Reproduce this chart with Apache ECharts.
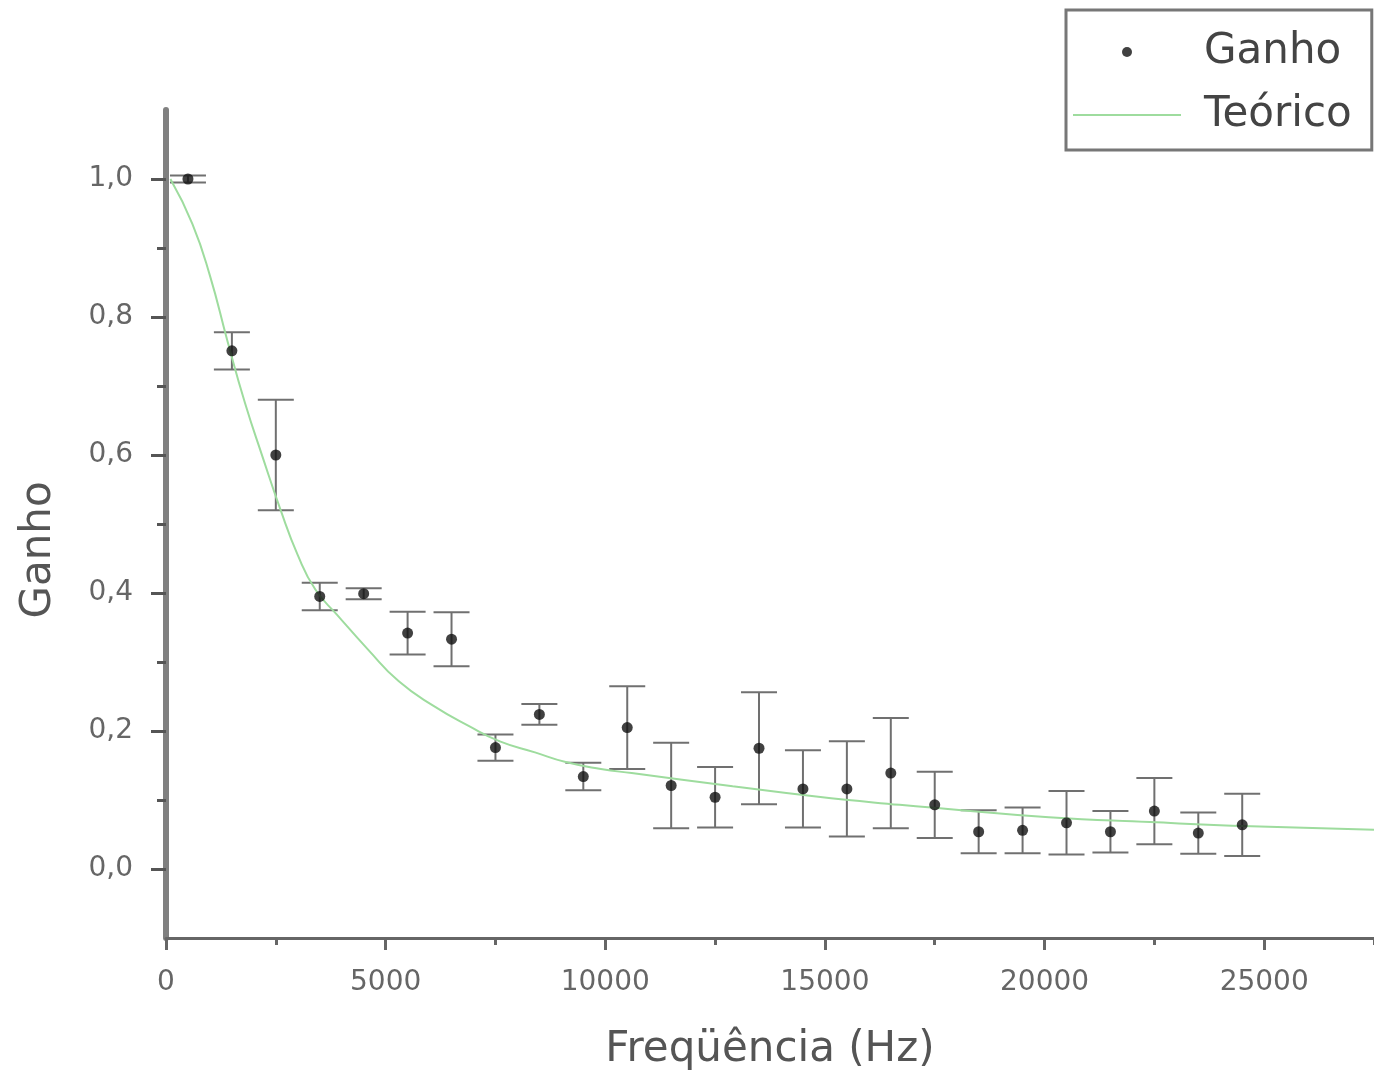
<!DOCTYPE html>
<html>
<head>
<meta charset="utf-8">
<script src="https://cdn.jsdelivr.net/npm/echarts@6/dist/echarts.min.js"></script>
<style>
html,body{margin:0;padding:0;background:#fff;}
#chart{width:1374px;height:1077px;}
</style>
</head>
<body>
<div id="chart"></div>
<script>
// Measured gain data (frequency in Hz)
const freq = [500,1500,2500,3500,4500,5500,6500,7500,8500,9500,10500,11500,12500,13500,14500,15500,16500,17500,18500,19500,20500,21500,22500,23500,24500];
const ganho = [1.0,0.751,0.600,0.395,0.399,0.342,0.333,0.176,0.224,0.134,0.205,0.121,0.104,0.175,0.116,0.116,0.139,0.093,0.054,0.056,0.067,0.054,0.084,0.052,0.064];
const ganhoErr = [0.005,0.027,0.080,0.020,0.008,0.031,0.039,0.019,0.015,0.020,0.060,0.062,0.044,0.081,0.056,0.069,0.080,0.048,0.031,0.033,0.046,0.030,0.048,0.030,0.045];

// Theoretical curve
const teoFreq = [100,600,1000,1400,1800,2200,2600,3000,3400,3900,4600,5300,6100,6900,7600,8400,9100,9900,10600,12900,14800,16700,17800,20100,22400,24700,27500];
const teoGanho = [1.0,0.935,0.86,0.765,0.675,0.597,0.522,0.455,0.405,0.368,0.318,0.272,0.236,0.207,0.185,0.169,0.155,0.145,0.139,0.120,0.105,0.093,0.087,0.075,0.068,0.062,0.057];

// Tick values
const xMajor = [0,5000,10000,15000,20000,25000];
const xMinor = [2500,7500,12500,17500,22500,27500];
const yMajor = [0,0.2,0.4,0.6,0.8,1.0];
const yMinor = [0.1,0.3,0.5,0.7,0.9];

const FONT = 'DejaVu Sans';
const pts = freq.map((f,i)=>[f, ganho[i]]);
const errData = freq.map((f,i)=>[f, ganho[i], ganhoErr[i]]);
const teo = teoFreq.map((f,i)=>[f, teoGanho[i]]);

const chart = echarts.init(document.getElementById('chart'));
const errStyle = {stroke:'#707070', lineWidth:2};
chart.setOption({
  animation:false,
  backgroundColor:'#fff',
  grid:{left:166, right:0, top:110, bottom:139, containLabel:false},
  legend:{
    orient:'vertical', left:1066, top:10,
    padding:[21,20,14,6], itemGap:21,
    itemWidth:108, itemHeight:10,
    borderColor:'#777', borderWidth:3, backgroundColor:'#fff',
    textStyle:{fontFamily:FONT, fontSize:42, color:'#444', padding:[0,0,0,18]},
    data:[
      {name:'Ganho'},
      {name:'Teórico', itemStyle:{opacity:0}}
    ]
  },
  xAxis:[{
    type:'value', min:0, max:27500, position:'bottom',
    axisLine:{onZero:false, lineStyle:{color:'#666', width:3}},
    axisTick:{customValues:xMajor, length:12, lineStyle:{color:'#666', width:3}},
    axisLabel:{customValues:xMajor, fontFamily:FONT, fontSize:28, color:'#666', margin:31,
      formatter:v=>String(Math.round(v))},
    splitLine:{show:false},
    name:'Freqüência (Hz)', nameLocation:'middle', nameGap:91,
    nameTextStyle:{fontFamily:FONT, fontSize:42, color:'#555'}
  },{
    type:'value', min:0, max:27500, position:'bottom',
    axisLine:{show:false, onZero:false},
    axisTick:{customValues:xMinor, length:7, lineStyle:{color:'#666', width:3}},
    axisLabel:{show:false}, splitLine:{show:false}
  }],
  yAxis:[{
    type:'value', min:-0.1, max:1.1, position:'left',
    axisLine:{onZero:false, lineStyle:{color:'#808080', width:6}},
    axisTick:{customValues:yMajor, length:15, lineStyle:{color:'#555', width:3}},
    axisLabel:{customValues:yMajor, fontFamily:FONT, fontSize:28, color:'#666', margin:33,
      formatter:v=>v.toFixed(1).replace('.',',')},
    splitLine:{show:false},
    name:'Ganho', nameLocation:'middle', nameGap:106,
    nameTextStyle:{fontFamily:FONT, fontSize:42, color:'#555', padding:[0,52,0,0]}
  },{
    type:'value', min:-0.1, max:1.1, position:'left',
    axisLine:{show:false, onZero:false},
    axisTick:{customValues:yMinor, length:9, lineStyle:{color:'#555', width:3}},
    axisLabel:{show:false}, splitLine:{show:false}
  }],
  series:[
    {
      type:'custom', name:'err', data:errData, z:2,
      renderItem:function(params, api){
        const x = api.value(0), y = api.value(1), e = api.value(2);
        const t = api.coord([x, y+e]), b = api.coord([x, y-e]);
        const hw = 18;
        return {type:'group', children:[
          {type:'line', shape:{x1:t[0],y1:t[1],x2:b[0],y2:b[1]}, style:errStyle},
          {type:'line', shape:{x1:t[0]-hw,y1:t[1],x2:t[0]+hw,y2:t[1]}, style:errStyle},
          {type:'line', shape:{x1:b[0]-hw,y1:b[1],x2:b[0]+hw,y2:b[1]}, style:errStyle}
        ]};
      }
    },
    {
      type:'line', name:'Teórico', data:teo, smooth:true, symbol:'none', z:3,
      lineStyle:{color:'#9edc9e', width:2}, itemStyle:{color:'#9edc9e'}
    },
    {
      type:'scatter', name:'Ganho', data:pts, symbol:'circle', symbolSize:11, z:4,
      itemStyle:{color:'#111'}
    }
  ]
});
</script>
</body>
</html>
